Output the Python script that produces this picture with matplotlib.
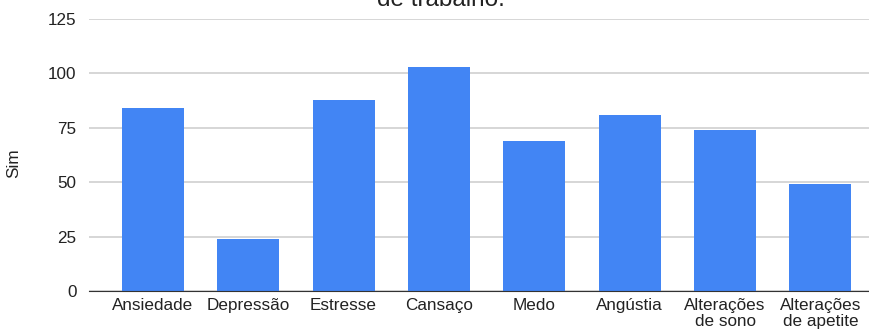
import numpy as np
import matplotlib
matplotlib.use("Agg")
from matplotlib import pyplot

categories = ["Ansiedade", "Depressão", "Estresse", "Cansaço", "Medo",
              "Angústia", "Alterações\nde sono", "Alterações\nde apetite"]
sim = [84, 24, 88, 103, 69, 81, 74, 49]
yticks = [0, 25, 50, 75, 100, 125]


def plotChart():
    pyplot.rcParams['font.family'] = ["Liberation Sans", "DejaVu Sans"]
    figure = pyplot.figure(figsize=(8.69, 3.33), dpi=100)
    axes = figure.add_axes([0.1024, 0.1261, 0.8976, 0.8169])

    x = np.arange(len(categories))
    axes.bar(x, sim, width=0.65, color='#4285F4', zorder=3)

    axes.set_xlim(-0.67, len(categories) - 0.49)
    axes.set_ylim(0, 125)
    axes.set_yticks(yticks)
    axes.set_xticks(x)
    axes.set_xticklabels(categories, fontsize=12.3, color='#222222', linespacing=1.05)
    axes.tick_params(axis='y', labelsize=12.3, labelcolor='#222222', length=0, pad=9)
    axes.tick_params(axis='x', length=0, pad=5)

    axes.grid(axis='y', color='#d0d0d0', linewidth=1.2, zorder=0)
    for side in ['top', 'right', 'left']:
        axes.spines[side].set_visible(False)
    axes.spines['bottom'].set_color('#333333')
    axes.spines['bottom'].set_zorder(4)

    figure.text(0.016, 0.51, "Sim", rotation=90, fontsize=12.3, color='#222222',
                ha='center', va='center')
    figure.text(0.507, 1 - 6.5 / 333, "de trabalho.", fontsize=17.5, color='#222222',
                ha='center', va='baseline')

    figure.savefig('out.png', dpi=100)


def main():
    plotChart()

main()
